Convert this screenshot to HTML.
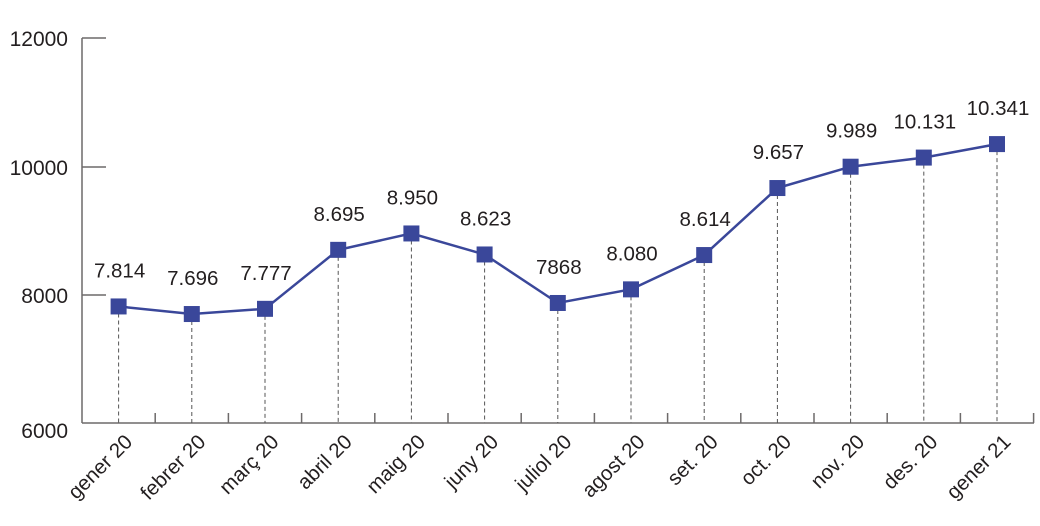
<!DOCTYPE html>
<html><head><meta charset="utf-8"><style>
html,body{margin:0;padding:0;background:#fff;}
svg text{font-family:"Liberation Sans",sans-serif;fill:#231f20;}
</style></head><body>
<svg width="1040" height="521" viewBox="0 0 1040 521">
<g stroke="#6d6a6a" stroke-width="1.5" fill="none">
<line x1="82" y1="38" x2="82" y2="423"/>
<line x1="82" y1="423" x2="1034" y2="423"/>
<line x1="82" y1="38" x2="106" y2="38"/>
<line x1="82" y1="167" x2="106" y2="167"/>
<line x1="82" y1="295" x2="106" y2="295"/>
</g>
<g id="ticks" stroke="#6d6a6a" stroke-width="1.5"></g>
<g id="drops" stroke="#555" stroke-width="1" stroke-dasharray="4,3"></g>
<g font-size="21" text-anchor="end">
<text x="68" y="46">12000</text>
<text x="68" y="175">10000</text>
<text x="68" y="303">8000</text>
<text x="68" y="438">6000</text>
</g>
<polyline id="line" fill="none" stroke="#3a479a" stroke-width="2.5"/>
<g id="marks" fill="#3a479a"></g>
<g id="vals" font-size="20.5" text-anchor="middle"></g>
<g id="cats" font-size="20.5" text-anchor="end"></g>
</svg>
<script>
var v=[7814,7696,7777,8695,8950,8623,7868,8080,8614,9657,9989,10131,10341];
var lb=["7.814","7.696","7.777","8.695","8.950","8.623","7868","8.080","8.614","9.657","9.989","10.131","10.341"];
var c=["gener 20","febrer 20","març 20","abril 20","maig 20","juny 20","juliol 20","agost 20","set. 20","oct. 20","nov. 20","des. 20","gener 21"];
var ns="http://www.w3.org/2000/svg",pts=[];
function el(p,t,a,txt){var e=document.createElementNS(ns,t);for(var k in a)e.setAttribute(k,a[k]);if(txt)e.textContent=txt;document.getElementById(p).appendChild(e);}
for(var i=0;i<13;i++){
 var x=118.6+73.2*i,y=423-(v[i]-6000)*0.06425;
 pts.push(x+","+y);
 el("drops","line",{x1:x,y1:y,x2:x,y2:423});
 var tx=155.2+73.2*i; el("ticks","line",{x1:tx,y1:413,x2:tx,y2:423});
 el("marks","rect",{x:x-8,y:y-8,width:16,height:16});
 el("vals","text",{x:x+1,y:y-29},lb[i]);
 el("cats","text",{x:x+15,y:443,transform:"rotate(-45 "+(x+15)+" 443)"},c[i]);
}
document.getElementById("line").setAttribute("points",pts.join(" "));
</script>
</body></html>
